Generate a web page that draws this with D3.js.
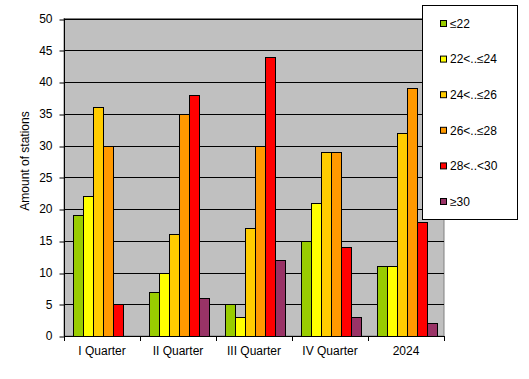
<!DOCTYPE html>
<html><head><meta charset="utf-8">
<script src="https://cdn.jsdelivr.net/npm/d3@7"></script>
<style>body{margin:0;background:#fff;}text{font-family:Arial,"Liberation Sans",sans-serif;}</style>
</head><body>
<svg id="c" width="529" height="379"></svg>
<script>
const categories = ["I Quarter","II Quarter","III Quarter","IV Quarter","2024"];
const seriesNames = ["≤22","22<..≤24","24<..≤26","26<..≤28","28<..<30","≥30"];
const seriesColors = ["#99CC00","#FFFF00","#FFCC00","#FF9900","#FF0000","#993366"];
const s1 = [19,7,5,15,11];
const s2 = [22,10,3,21,11];
const s3 = [36,16,17,29,32];
const s4 = [30,35,30,29,39];
const s5 = [5,38,44,14,18];
const s6 = [0,6,12,3,2];
const yTicks = [0,5,10,15,20,25,30,35,40,45,50];
const seriesValues = [s1,s2,s3,s4,s5,s6];

const svg = d3.select("#c");
const L=64, R=444, T=18.5, B=336;
const x = d3.scaleBand().domain(categories).range([L,R]).paddingInner(0).paddingOuter(0);
const y = d3.scaleLinear().domain([0,50]).range([B,T]);
const inner = d3.scaleBand().domain(d3.range(seriesNames.length)).range([0,x.bandwidth()]).paddingOuter(8/60*6/ (1)).paddingInner(0);
// explicit inner scale: 8px gap each side
const xi = d3.scaleBand().domain(d3.range(seriesNames.length)).range([8.5, x.bandwidth()-7.5]);

svg.append("rect").attr("x",L).attr("y",T).attr("width",R-L).attr("height",B-T).attr("fill","#C0C0C0").attr("stroke","#808080").attr("stroke-width",1);

// gridlines
svg.append("g").selectAll("line").data(yTicks.filter(d=>d>0)).join("line")
  .attr("x1",L).attr("x2",R).attr("y1",d=>Math.round(y(d))+0.5).attr("y2",d=>Math.round(y(d))+0.5)
  .attr("stroke","#000").attr("stroke-width",1);

// bars
categories.forEach((c,ci)=>{
  seriesValues.forEach((vals,si)=>{
    const v = vals[ci];
    if(v<=0) return;
    const x0 = Math.round(x(c)+xi(si))+0.5;
    const y0 = Math.round(y(v))+0.5;
    svg.append("rect").attr("x",x0).attr("y",y0).attr("width",Math.round(xi.bandwidth()))
      .attr("height",Math.round(y(0))-Math.round(y(v)))
      .attr("fill",seriesColors[si]).attr("stroke","#000").attr("stroke-width",1);
  });
});

// y axis
const ya = svg.append("g").attr("transform",`translate(${L+0.5},0)`)
  .call(d3.axisLeft(y).tickValues(yTicks).tickSize(5).tickPadding(7).tickFormat(d3.format("d")));
ya.select(".domain").attr("d",`M0,${T}V${B+0.5}`).attr("stroke","#000");
ya.selectAll(".tick line").attr("stroke","#000").attr("transform",function(d){return `translate(0,${Math.round(y(d))+0.5-y(d)})`;});
ya.selectAll("text").attr("font-size","12px").attr("fill","#000").attr("font-family","Arial, 'Liberation Sans', sans-serif");

// x axis
const xa = svg.append("g").attr("transform",`translate(0,${B+0.5})`)
  .call(d3.axisBottom(x).tickSize(0).tickPadding(10));
xa.select(".domain").attr("d",`M${L},0H${R+0.5}`).attr("stroke","#000");
xa.selectAll("text").attr("font-size","12px").attr("fill","#000").attr("font-family","Arial, 'Liberation Sans', sans-serif");
const bounds = categories.map(c=>x(c)).concat([R]);
svg.append("g").selectAll("line").data(bounds).join("line")
  .attr("x1",d=>Math.round(d)+0.5).attr("x2",d=>Math.round(d)+0.5).attr("y1",B).attr("y2",B+5)
  .attr("stroke","#000");

// y title
svg.append("text").attr("transform",`translate(29,161) rotate(-90)`).attr("text-anchor","middle")
  .attr("font-size","12px").attr("fill","#000").text("Amount of stations");

// legend
const lg = svg.append("g");
lg.append("rect").attr("x",422.5).attr("y",5.5).attr("width",95).attr("height",214).attr("fill","#fff").attr("stroke","#000");
const ly = d3.scalePoint().domain(d3.range(seriesNames.length)).range([23.5,201.5]);
seriesNames.forEach((n,i)=>{
  lg.append("rect").attr("x",440.5).attr("y",ly(i)-3).attr("width",6).attr("height",6)
    .attr("fill",seriesColors[i]).attr("stroke","#000");
  lg.append("text").attr("x",450).attr("y",ly(i)).attr("dy","0.35em").attr("font-size","12px").attr("fill","#000").text(n);
});
</script>
</body></html>
